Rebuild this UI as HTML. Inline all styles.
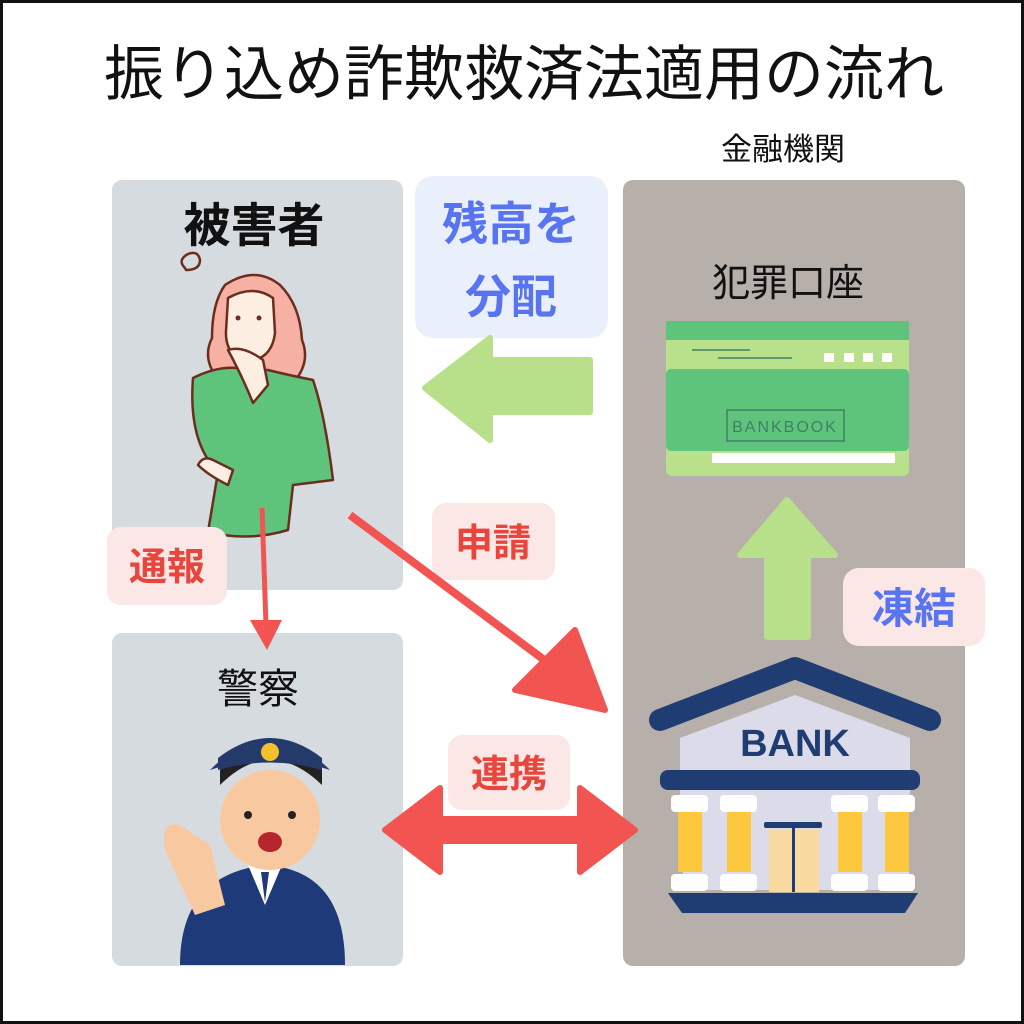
<!DOCTYPE html>
<html><head><meta charset="utf-8"><style>
html,body{margin:0;padding:0;background:#fff}
svg{display:block}
text{font-family:"Liberation Sans","Noto Sans CJK JP",sans-serif}
</style></head><body>
<svg width="1024" height="1024" viewBox="0 0 1024 1024">
<rect x="1.5" y="1.5" width="1021" height="1021" fill="#fff" stroke="#111" stroke-width="3"/>
<text x="524" y="95" font-size="60" text-anchor="middle" fill="#111">振り込め詐欺救済法適用の流れ</text>
<text x="783" y="160" font-size="31" text-anchor="middle" fill="#111">金融機関</text>
<rect x="112" y="180" width="291" height="410" rx="10" fill="#d6dbe0"/>
<rect x="112" y="633" width="291" height="333" rx="10" fill="#d6dbe0"/>
<rect x="623" y="180" width="342" height="786" rx="10" fill="#b7afa9"/>
<text x="254" y="242" font-size="47" font-weight="bold" text-anchor="middle" fill="#111">被害者</text>
<text x="258" y="703" font-size="41" text-anchor="middle" fill="#111">警察</text>
<text x="788" y="296" font-size="38" text-anchor="middle" fill="#111">犯罪口座</text>
<!-- woman -->
<g stroke="#6b2e1e" stroke-width="2.5" stroke-linejoin="round">
<path d="M185 268 q-8 -8 3 -14 q10 -4 12 6 q0 10 -14 10 z" fill="none"/>
<path d="M225 285 q30 -20 55 0 q20 20 22 55 q8 20 -5 38 l-80 0 q-15 -20 -5 -40 q0 -35 13 -53z" fill="#f6b1a4"/>
<path d="M228 298 q25 -14 45 0 l2 35 q-3 25 -25 28 q-25 -3 -24 -30z" fill="#fdeee2"/>
<path d="M193 378 q30 -15 55 -8 l20 0 q20 5 45 10 q12 35 20 100 l-40 5 l-5 45 q-40 12 -80 2 l10 -60 q-30 -30 -25 -94z" fill="#5ec47c"/>
<path d="M228 350 q15 -5 35 10 l5 25 l-15 18 q-10 -25 -25 -53z" fill="#fdeee2"/>
<path d="M213 460 q-10 -5 -15 5 q10 10 30 20 l5 -15z" fill="#fdeee2"/>
</g>
<g fill="#6b2e1e"><circle cx="238" cy="318" r="2.5"/><circle cx="259" cy="318" r="2.5"/></g>
<!-- police -->
<g>
<path d="M180 965 q0 -90 85 -100 q80 5 80 100z" fill="#1f3a78"/>
<path d="M248 865 l17 40 l17 -40z" fill="#fff"/>
<path d="M261 872 l4 30 l4 -30z" fill="#1f3a78"/>
<ellipse cx="270" cy="820" rx="50" ry="50" fill="#f8c9a0"/>
<path d="M220 785 q50 -50 102 0 l0 -15 q-50 -40 -102 0z" fill="#222"/>
<path d="M210 770 q60 -60 120 0 q-60 -20 -120 0z" fill="#243a6a"/>
<path d="M218 758 q52 -40 104 0 l0 12 q-52 -15 -104 0z" fill="#243a6a"/>
<circle cx="270" cy="752" r="9" fill="#f2c12e"/>
<ellipse cx="270" cy="842" rx="12" ry="10" fill="#b5252c"/>
<path d="M165 850 q-5 -30 15 -25 l30 20 l15 60 l-30 10z" fill="#f8c9a0"/>
<circle cx="248" cy="815" r="4" fill="#222"/><circle cx="292" cy="815" r="4" fill="#222"/>
</g>
<!-- labels -->
<rect x="415" y="176" width="193" height="162" rx="18" fill="#e9f0fb"/>
<text x="511" y="240" font-size="46" font-weight="bold" text-anchor="middle" fill="#5874f0">残高を</text>
<text x="511" y="313" font-size="46" font-weight="bold" text-anchor="middle" fill="#5874f0">分配</text>
<rect x="843" y="568" width="142" height="78" rx="16" fill="#fbe7e6"/>
<text x="914" y="623" font-size="42" font-weight="bold" text-anchor="middle" fill="#5874f0">凍結</text>
<rect x="432" y="503" width="123" height="77" rx="14" fill="#fbe7e6"/>
<text x="493" y="556" font-size="38" font-weight="bold" text-anchor="middle" fill="#e8453c">申請</text>
<rect x="107" y="527" width="120" height="78" rx="14" fill="#fbe7e6"/>
<text x="167" y="580" font-size="38" font-weight="bold" text-anchor="middle" fill="#e8453c">通報</text>
<rect x="448" y="735" width="122" height="75" rx="14" fill="#fbe7e6"/>
<text x="509" y="787" font-size="38" font-weight="bold" text-anchor="middle" fill="#e8453c">連携</text>
<!-- green arrows -->
<path d="M590 360 L490 360 L490 338 L425 388 L490 440 L490 412 L590 412Z" fill="#b8e08a" stroke="#b8e08a" stroke-width="6" stroke-linejoin="round"/>
<path d="M787 500 L835 555 L808 555 L808 637 L767 637 L767 555 L740 555Z" fill="#b8e08a" stroke="#b8e08a" stroke-width="6" stroke-linejoin="round"/>
<!-- red arrows -->
<line x1="262" y1="508" x2="266" y2="625" stroke="#f25551" stroke-width="5"/>
<path d="M250 620 L282 620 L267 650Z" fill="#f25551"/>
<line x1="350" y1="515" x2="555" y2="668" stroke="#f25551" stroke-width="8"/>
<path d="M605 710 L515 690 L575 630Z" fill="#f25551" stroke="#f25551" stroke-width="6" stroke-linejoin="round"/>
<path d="M385 830 L440 788 L440 819 L580 819 L580 788 L635 830 L580 872 L580 841 L440 841 L440 872Z" fill="#f25551" stroke="#f25551" stroke-width="6" stroke-linejoin="round"/>
<!-- bankbook -->
<rect x="666" y="321" width="243" height="155" rx="6" fill="#b9e08a"/>
<rect x="666" y="321" width="243" height="19" fill="#5ec47c"/>
<rect x="666" y="369" width="243" height="82" rx="5" fill="#5ec47c"/>
<rect x="712" y="453" width="183" height="10" fill="#fff"/>
<line x1="692" y1="350" x2="750" y2="350" stroke="#3f7f66" stroke-width="1.5"/>
<line x1="718" y1="358" x2="792" y2="358" stroke="#3f7f66" stroke-width="1.5"/>
<g fill="#fff"><rect x="824" y="353" width="10" height="9"/><rect x="844" y="353" width="10" height="9"/><rect x="863" y="353" width="10" height="9"/><rect x="882" y="353" width="10" height="9"/></g>
<rect x="727" y="410" width="117" height="31" fill="none" stroke="#3f7f66" stroke-width="1.5"/>
<text x="785" y="432" font-size="16" text-anchor="middle" fill="#3f7f66" letter-spacing="2">BANKBOOK</text>
<!-- bank -->
<path d="M680 738 L680 800 L910 800 L910 738 L795 695Z" fill="#dcdbea"/>
<path d="M660 720 L795 668 L930 720" fill="none" stroke="#1f3d72" stroke-width="22" stroke-linecap="round" stroke-linejoin="round"/>
<text x="795" y="756" font-size="38" font-weight="bold" text-anchor="middle" fill="#1f3d72">BANK</text>
<rect x="683" y="790" width="226" height="100" fill="#dcdbea"/>
<rect x="660" y="770" width="260" height="20" rx="8" fill="#1f3d72"/>
<g fill="#fdc83e"><rect x="678" y="812" width="24" height="60"/><rect x="727" y="812" width="24" height="60"/><rect x="838" y="812" width="24" height="60"/><rect x="885" y="812" width="24" height="60"/></g>
<g fill="#fff"><rect x="671" y="795" width="37" height="17" rx="4"/><rect x="720" y="795" width="37" height="17" rx="4"/><rect x="831" y="795" width="37" height="17" rx="4"/><rect x="878" y="795" width="37" height="17" rx="4"/>
<rect x="671" y="874" width="37" height="17" rx="4"/><rect x="720" y="874" width="37" height="17" rx="4"/><rect x="831" y="874" width="37" height="17" rx="4"/><rect x="878" y="874" width="37" height="17" rx="4"/></g>
<rect x="769" y="830" width="50" height="62" fill="#f8d9a0"/>
<rect x="764" y="822" width="58" height="6" rx="2" fill="#1f3d72"/>
<rect x="792" y="826" width="3" height="66" fill="#1f3d72"/>
<path d="M668 893 L918 893 L905 913 L682 913Z" fill="#1f3d72"/>
</svg>
</body></html>
